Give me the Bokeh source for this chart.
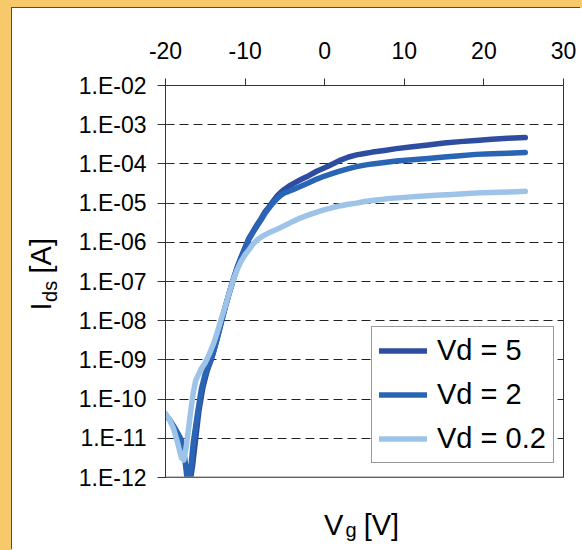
from bokeh.plotting import figure
from bokeh.models import FixedTicker, CustomJSTickFormatter, Span, LinearAxis, LogAxis
from bokeh.embed import file_html
from bokeh.resources import INLINE

# ---------------- data ----------------
x_ticks = [-20, -10, 0, 10, 20, 30]
y_ticks = [1e-12, 1e-11, 1e-10, 1e-9, 1e-8, 1e-7, 1e-6, 1e-5, 1e-4, 1e-3, 1e-2]
grid_ticks = [1e-11, 1e-10, 1e-9, 1e-8, 1e-7, 1e-6, 1e-5, 1e-4, 1e-3]

series_labels = ["Vd = 5", "Vd = 2", "Vd = 0.2"]
series_colors = ["#2E4DA1", "#2A64B4", "#9DC3E8"]

vg_vd5 = [-16.9, -16.6, -16.2, -15.8, -15.3, -14.8, -14.2, -13.6, -13.0, -12.5,
          -12.0, -11.5, -11.0, -10.5, -10.0, -9.5, -9.0, -8.5, -8.0, -7.5,
          -7.0, -6.5, -6.0, -5.5, -5.0, -4.5, -4.0, -3.0, -2.0, -1.0,
          0.0, 1.0, 2.0, 3.0, 4.0, 5.0, 6.0, 7.5, 9.0, 11.0,
          13.0, 15.0, 17.0, 19.0, 21.0, 23.0, 25.2]
ids_vd5 = [8e-13, 2e-12, 1e-11, 5e-11, 2e-10, 5e-10, 1.1e-9, 3e-9, 9e-9, 2.2e-8,
           5e-8, 1.1e-7, 2.3e-7, 4.2e-7, 7.5e-7, 1.3e-6, 1.9e-6, 2.8e-6, 4.0e-6, 6.0e-6,
           8.0e-6, 1.1e-5, 1.5e-5, 1.9e-5, 2.3e-5, 2.7e-5, 3.1e-5, 4.0e-5, 5.0e-5, 6.5e-5,
           8.0e-5, 1.0e-4, 1.25e-4, 1.5e-4, 1.7e-4, 1.85e-4, 2.0e-4, 2.2e-4, 2.45e-4, 2.75e-4,
           3.05e-4, 3.4e-4, 3.7e-4, 3.95e-4, 4.25e-4, 4.5e-4, 4.7e-4]

vg_vd2 = [-20.0, -19.5, -19.0, -18.5, -18.0, -17.7, -17.4, -17.1, -16.8, -16.5,
          -16.0, -15.5, -15.0, -14.5, -14.0, -13.5, -13.0, -12.5, -12.0, -11.5,
          -11.0, -10.5, -10.0, -9.5, -9.0, -8.5, -8.0, -7.5, -7.0, -6.5,
          -6.0, -5.5, -5.0, -4.5, -4.0, -3.0, -2.0, -1.0, 0.0, 1.0,
          2.0, 3.0, 4.0, 5.0, 6.0, 7.5, 9.0, 11.0, 13.0, 15.0,
          17.0, 19.0, 21.0, 23.0, 25.2]
ids_vd2 = [4e-11, 3e-11, 2.1e-11, 1.4e-11, 9e-12, 5e-12, 1.5e-12, 4e-13, 2e-12, 8e-12,
           4e-11, 1.8e-10, 4.5e-10, 8e-10, 1.5e-9, 3.5e-9, 9e-9, 2.2e-8, 5e-8, 1.1e-7,
           2.2e-7, 4e-7, 7e-7, 1.2e-6, 1.8e-6, 2.6e-6, 3.7e-6, 5.5e-6, 7.5e-6, 1.0e-5,
           1.3e-5, 1.6e-5, 1.85e-5, 2.0e-5, 2.2e-5, 2.7e-5, 3.3e-5, 4.1e-5, 4.9e-5, 5.7e-5,
           6.6e-5, 7.6e-5, 8.5e-5, 9.3e-5, 1.0e-4, 1.08e-4, 1.18e-4, 1.28e-4, 1.38e-4, 1.5e-4,
           1.62e-4, 1.75e-4, 1.82e-4, 1.88e-4, 1.95e-4]

vg_vd02 = [-20.0, -19.5, -19.0, -18.5, -18.0, -17.7, -17.4, -17.1, -16.8, -16.5,
           -16.2, -15.5, -15.0, -14.5, -14.0, -13.5, -13.0, -12.5, -12.0, -11.5,
           -11.0, -10.5, -10.0, -9.5, -9.0, -8.5, -8.0, -7.5, -7.0, -6.5,
           -6.0, -5.5, -5.0, -4.0, -3.0, -2.0, -1.0, 0.0, 1.0, 2.0,
           3.0, 4.0, 5.0, 6.0, 8.0, 10.0, 12.0, 14.0, 16.0, 18.0,
           20.0, 22.0, 24.0, 25.2]
ids_vd02 = [4.3e-11, 3.0e-11, 1.8e-11, 8.0e-12, 3.2e-12, 2.8e-12, 6.0e-12, 1.8e-11, 5.5e-11, 1.5e-10,
            3.0e-10, 6.0e-10, 8.5e-10, 1.4e-9, 2.5e-9, 5.0e-9, 1.1e-8, 2.3e-8, 5.0e-8, 1.1e-7,
            2.0e-7, 3.3e-7, 4.8e-7, 6.5e-7, 9.0e-7, 1.15e-6, 1.35e-6, 1.55e-6, 1.75e-6, 1.95e-6,
            2.15e-6, 2.4e-6, 2.7e-6, 3.4e-6, 4.2e-6, 5.0e-6, 5.9e-6, 6.8e-6, 7.7e-6, 8.6e-6,
            9.3e-6, 1.0e-5, 1.1e-5, 1.17e-5, 1.3e-5, 1.4e-5, 1.5e-5, 1.58e-5, 1.65e-5, 1.75e-5,
            1.85e-5, 1.9e-5, 1.95e-5, 2.0e-5]

FONT = "Liberation Sans"

p = figure(width=569, height=542, x_range=(-20, 30), y_range=(1e-12, 1e-2),
           y_axis_type="log", x_axis_location="above",
           output_backend="svg", toolbar_location=None,
           min_border_left=153, min_border_right=18, min_border_top=77, min_border_bottom=73,
           margin=(8, 0, 0, 12),
           background_fill_color="white", border_fill_color="white",
           outline_line_color="#333333", outline_line_width=1)
p.styles = {"box-shadow": "-1px -1px 0 0 #5a4c2e"}

# x axis (top)
xa = p.xaxis[0]
xa.ticker = FixedTicker(ticks=x_ticks)
xa.formatter = CustomJSTickFormatter(code="return tick.toFixed(0);")
xa.major_label_text_font = FONT
xa.major_label_text_font_size = "23px"
xa.major_label_text_color = "black"
xa.major_tick_out = 7
xa.major_tick_in = 0
xa.minor_tick_line_color = None
xa.axis_line_color = "#333333"
xa.major_tick_line_color = "#333333"
xa.major_label_standoff = 20

# y axis (left)
ya = p.yaxis[0]
ya.ticker = FixedTicker(ticks=y_ticks)
ya.formatter = CustomJSTickFormatter(code="""
const e = Math.round(Math.log10(tick));
const a = Math.abs(e);
return "1.E" + (e < 0 ? "-" : "+") + (a < 10 ? "0" : "") + a;
""")
ya.major_label_text_font = FONT
ya.major_label_text_font_size = "23px"
ya.major_label_text_color = "black"
ya.major_tick_out = 8
ya.major_tick_in = 5
ya.minor_tick_line_color = None
ya.axis_line_color = "#333333"
ya.major_tick_line_color = "#333333"
ya.major_label_standoff = 11

# x title "V_g [V]" : subscript as a tick label, main text as axis label
xt = LinearAxis(ticker=FixedTicker(ticks=[3.3]),
                formatter=CustomJSTickFormatter(code='return "g";'),
                axis_label="V\u2002\u2009[V]\u2009")
xt.major_label_text_font = FONT
xt.major_label_text_font_size = "20px"
xt.major_label_text_color = "black"
xt.major_label_standoff = 41
xt.major_tick_out = 0
xt.major_tick_in = 0
xt.major_tick_line_color = None
xt.minor_tick_line_color = None
xt.axis_line_color = None
xt.axis_label_text_font = FONT
xt.axis_label_text_font_size = "29px"
xt.axis_label_text_font_style = "normal"
xt.axis_label_text_color = "black"
xt.axis_label_standoff = -35
p.add_layout(xt, "below")

# y title "I_ds [A]"
yt = LogAxis(ticker=FixedTicker(ticks=[5.6e-8]),
             formatter=CustomJSTickFormatter(code='return "ds";'),
             axis_label="\u2002I\u2003[A]")
yt.major_label_orientation = "vertical"
yt.major_label_text_font = FONT
yt.major_label_text_font_size = "20px"
yt.major_label_text_color = "black"
yt.major_label_standoff = 14
yt.major_tick_out = 0
yt.major_tick_in = 0
yt.major_tick_line_color = None
yt.minor_tick_line_color = None
yt.axis_line_color = None
yt.axis_label_text_font = FONT
yt.axis_label_text_font_size = "29px"
yt.axis_label_text_font_style = "normal"
yt.axis_label_text_color = "black"
yt.axis_label_standoff = -20
p.add_layout(yt, "left")

p.xgrid.visible = False
p.ygrid.ticker = FixedTicker(ticks=grid_ticks)
p.ygrid.grid_line_color = "#222222"
p.ygrid.grid_line_dash = "9 5"
p.ygrid.grid_line_width = 1

p.add_layout(Span(location=y_ticks[0], dimension="width", line_color="#8a8a8a", line_width=2))

for vg, ids, lab, col in [(vg_vd5, ids_vd5, series_labels[0], series_colors[0]),
                          (vg_vd2, ids_vd2, series_labels[1], series_colors[1]),
                          (vg_vd02, ids_vd02, series_labels[2], series_colors[2])]:
    p.line(vg, ids, line_color=col, line_width=5.5, line_cap="round", line_join="round",
           legend_label=lab)

lg = p.legend[0]
lg.location = (206, 14)
lg.label_text_font = FONT
lg.label_text_font_size = "29px"
lg.label_text_color = "black"
lg.glyph_width = 48
lg.glyph_height = 33
lg.label_height = 33
lg.label_standoff = 10
lg.spacing = 11
lg.padding = 7
lg.margin = 0
lg.border_line_color = "#333333"
lg.border_line_width = 1.5
lg.background_fill_color = "white"
lg.background_fill_alpha = 1.0

css = ("<style>html,body{background-color:white;}"
       "body{background-repeat:no-repeat;background-image:"
       "linear-gradient(90deg, #F7C96B 0, #F7C96B 12px, transparent 12px),"
       "linear-gradient(180deg, #F7C96B 0, #F7C96B 8px, transparent 8px);}</style>")
html = file_html(p, INLINE, title="Ids vs Vg")
html = html.replace("</head>", css + "</head>", 1)
open("out.html", "w").write(html)
